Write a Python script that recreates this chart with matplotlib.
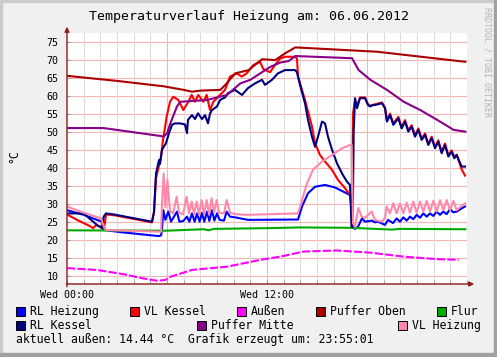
import matplotlib
matplotlib.use('Agg')
import matplotlib.pyplot as plt
from matplotlib.patches import Rectangle

# hours since Wed 00:00 and temperatures in degC
rl_heizung_t = [0, 1.0, 1.8, 2.1, 2.22, 3.2, 5.5, 5.65, 5.7, 5.78, 5.9, 6.08, 6.24, 6.6, 6.74, 6.98,
                7.2, 7.34, 7.5, 7.66, 7.8, 7.96, 8.1, 8.24, 8.4, 8.54, 8.7, 8.84, 9.0, 9.16, 9.42,
                9.58, 9.78, 10.08, 10.86, 13.86, 14.1, 14.46, 14.88, 15.48, 16.08, 16.68, 16.98,
                17.04, 17.1, 17.28, 17.46, 17.7, 17.88, 18.3, 18.48, 18.66, 19.08, 19.26, 19.56,
                19.78, 19.98, 20.18, 20.38, 20.58, 20.78, 20.98, 21.18, 21.38, 21.58, 21.78, 21.98,
                22.18, 22.38, 22.58, 22.78, 22.98, 23.18, 23.38, 23.68, 23.88]
rl_heizung_v = [28.2, 26.9, 25.5, 25.0, 22.7, 22.1, 21.0, 21.2, 23.0, 28.2, 25.5, 27.8, 25.0, 27.8, 25.0, 25.2,
                26.4, 25.0, 27.3, 25.0, 27.3, 25.0, 27.5, 25.0, 27.8, 25.2, 28.2, 25.3, 27.3, 25.5, 25.3,
                27.8, 26.4, 26.2, 25.5, 25.6, 29.2, 32.9, 34.7, 35.2, 34.5, 33.1, 32.4,
                30.0, 23.6, 23.0, 23.6, 25.9, 25.0, 25.3, 24.8, 25.0, 24.1, 25.5, 24.6,
                25.9, 25.0, 26.2, 25.3, 26.4, 25.7, 26.9, 26.1, 27.3, 26.4, 27.3, 26.6,
                27.8, 26.9, 27.8, 27.1, 28.5, 27.6, 27.8, 28.7, 29.2]

vl_kessel_t = [0, 0.6, 1.0, 1.44, 1.56, 1.74, 2.04, 2.22, 2.34, 2.82, 5.1, 5.22, 5.34, 5.46, 5.64, 5.76,
               5.98, 6.18, 6.38, 6.68, 6.98, 7.28, 7.48, 7.68, 7.88, 8.18, 8.38, 8.58, 8.78, 9.18,
               9.48, 9.78, 10.18, 10.48, 10.78, 11.18, 11.58, 11.78, 12.18, 12.48, 12.78, 13.08,
               13.68, 13.8, 13.86, 14.28, 14.7, 14.88, 15.18, 15.48, 15.9, 16.26, 16.68, 16.98,
               17.04, 17.1, 17.16, 17.28, 17.4, 17.58, 17.88, 18.06, 18.18, 18.48, 18.9, 19.08,
               19.2, 19.38, 19.58, 19.88, 20.08, 20.28, 20.48, 20.68, 20.88, 21.08, 21.28, 21.48,
               21.68, 21.88, 22.08, 22.28, 22.48, 22.68, 22.88, 23.08, 23.24, 23.38, 23.68, 23.88]
vl_kessel_v = [27.0, 25.5, 24.6, 23.6, 23.2, 24.0, 23.6, 22.9, 27.0, 26.8, 24.8, 27.5, 37.0, 39.4, 43.0, 47.7,
               54.2, 58.3, 59.7, 58.8, 56.0, 58.3, 60.2, 58.3, 60.2, 58.3, 60.2, 56.0, 58.3, 60.2,
               61.6, 65.3, 66.2, 65.3, 66.2, 68.5, 69.4, 67.4, 66.5, 68.5, 70.3, 70.8,
               70.8, 70.3, 65.3, 58.8, 51.4, 46.8, 43.5, 41.7, 39.4, 36.6, 34.3, 32.4,
               31.5, 24.0, 55.0, 58.8, 57.2, 59.5, 59.5, 57.6, 57.2, 57.6, 58.1, 56.7,
               53.0, 55.0, 52.3, 54.1, 51.3, 53.2, 50.4, 51.8, 49.0, 50.9, 48.1, 49.5,
               46.7, 48.6, 45.8, 47.6, 44.4, 46.7, 43.5, 44.8, 43.0, 43.6, 39.5, 37.8]

aussen_t = [0, 1.8, 3.4, 4.5, 5.4, 5.9, 6.2, 7.5, 9.6, 11.6, 12.8, 14.2, 16.2, 18.2, 20.2, 22.2, 23.5]
aussen_v = [12.1, 11.6, 10.4, 9.3, 8.6, 8.8, 9.7, 11.6, 12.5, 14.4, 15.3, 16.7, 17.0, 16.4, 15.3, 14.6, 14.4]

puffer_oben_t = [0, 3.0, 5.8, 7.0, 7.5, 8.0, 9.2, 9.5, 10.1, 10.9, 11.4, 11.7, 12.5, 13.1, 13.7, 18.6, 23.9]
puffer_oben_v = [65.5, 64.1, 62.6, 61.6, 61.1, 61.4, 61.6, 63.0, 66.2, 67.1, 69.0, 70.1, 69.9, 71.8, 73.4, 72.2, 69.4]

flur_t = [0, 6.0, 8.2, 8.5, 8.8, 12.0, 14.0, 17.0, 19.5, 20.0, 23.9]
flur_v = [22.6, 22.5, 22.9, 22.6, 23.0, 23.2, 23.4, 23.3, 22.8, 23.0, 22.9]

rl_kessel_t = [0, 1.0, 1.44, 1.8, 2.1, 2.2, 2.34, 2.82, 5.1, 5.22, 5.34, 5.52, 5.58, 5.7, 5.94, 6.12,
               6.3, 6.48, 6.78, 7.08, 7.2, 7.26, 7.5, 7.68, 7.86, 8.1, 8.28, 8.46, 8.58, 8.7, 9.0,
               9.18, 9.48, 9.66, 10.08, 10.5, 10.86, 11.28, 11.7, 11.88, 12.3, 12.66, 13.08, 13.68,
               13.8, 13.98, 14.28, 14.46, 14.7, 14.88, 15.06, 15.3, 15.48, 15.66, 15.9, 16.2, 16.5,
               16.8, 16.98, 17.08, 17.14, 17.2, 17.28, 17.4, 17.58, 17.88, 18.06, 18.18, 18.36,
               18.48, 18.9, 19.08, 19.2, 19.38, 19.58, 19.88, 20.08, 20.28, 20.48, 20.68, 20.88,
               21.08, 21.28, 21.48, 21.68, 21.88, 22.08, 22.28, 22.48, 22.68, 22.88, 23.08, 23.24,
               23.38, 23.68, 23.88]
rl_kessel_v = [27.3, 27.3, 25.5, 24.1, 23.2, 26.4, 27.3, 27.0, 25.0, 27.8, 38.4, 42.1, 41.0, 45.0, 46.8, 49.6,
               51.9, 52.3, 52.3, 52.0, 49.6, 53.3, 54.6, 53.5, 55.1, 53.5, 54.6, 52.3, 55.0, 56.0, 57.0,
               58.8, 59.5, 60.7, 61.6, 60.2, 62.1, 63.4, 64.4, 63.0, 64.4, 66.2, 67.1, 67.1,
               66.5, 63.0, 57.9, 53.3, 48.6, 45.8, 48.6, 52.8, 52.3, 48.6, 45.0, 41.2, 38.4,
               36.1, 35.2, 23.5, 23.5, 50.0, 59.3, 56.5, 59.3, 59.3, 57.4, 57.0, 57.4,
               57.4, 57.9, 56.5, 52.8, 54.6, 51.9, 53.7, 50.9, 52.8, 50.0, 51.4, 48.6,
               50.5, 47.7, 49.1, 46.3, 48.2, 45.4, 47.2, 44.0, 46.3, 43.1, 44.4, 42.6,
               43.5, 40.3, 40.3]

puffer_mitte_t = [0, 2.2, 5.6, 5.8, 6.0, 6.2, 6.6, 6.8, 8.4, 9.6, 10.4, 11.0, 11.6, 12.2, 12.8, 13.3,
                  13.7, 17.1, 17.5, 18.2, 19.2, 20.2, 21.2, 22.2, 23.2, 23.9]
puffer_mitte_v = [51.0, 51.0, 48.8, 48.6, 49.5, 52.3, 57.0, 58.3, 58.8, 60.2, 63.4, 64.4, 66.2, 68.0, 69.2, 69.6,
                  71.0, 70.4, 67.1, 64.4, 61.6, 58.3, 56.0, 53.3, 50.5, 50.0]

vl_heizung_t = [0, 1.0, 2.04, 2.22, 2.34, 5.64, 5.7, 5.8, 5.9, 6.02, 6.18, 6.36, 6.58, 6.72, 6.96, 7.18,
                7.32, 7.48, 7.62, 7.78, 7.92, 8.08, 8.22, 8.38, 8.52, 8.68, 8.82, 8.98, 9.12, 9.42,
                9.58, 9.78, 10.08, 10.86, 13.86, 14.1, 14.4, 14.76, 15.3, 15.9, 16.5, 16.98, 17.08,
                17.16, 17.28, 17.48, 17.68, 17.88, 18.28, 18.48, 18.88, 19.08, 19.18, 19.38, 19.58,
                19.78, 19.98, 20.18, 20.38, 20.58, 20.78, 20.98, 21.18, 21.38, 21.58, 21.78, 21.98,
                22.18, 22.38, 22.58, 22.78, 22.98, 23.18, 23.38, 23.68, 23.88]
vl_heizung_v = [29.2, 27.5, 25.9, 23.6, 22.7, 22.2, 30.0, 38.4, 29.0, 36.6, 28.0, 27.3, 31.9, 27.5, 27.0, 31.9,
                27.3, 30.6, 27.0, 30.6, 27.0, 31.0, 27.0, 31.0, 27.0, 31.5, 27.5, 31.0, 27.5, 27.3,
                31.0, 27.5, 27.1, 26.9, 27.3, 31.0, 35.7, 39.4, 41.7, 43.5, 45.4, 46.3, 46.3,
                24.6, 23.6, 28.8, 26.4, 26.1, 27.8, 25.5, 25.0, 26.0, 29.2, 27.3, 30.1,
                27.3, 30.1, 27.3, 30.3, 27.5, 30.6, 27.5, 30.6, 27.8, 30.8, 27.8, 30.8,
                27.8, 31.0, 28.2, 31.0, 28.2, 30.8, 28.2, 29.4, 30.1]

# legend order = draw order
series = [
    ('RL Heizung', '#0000ff', rl_heizung_t, rl_heizung_v),
    ('VL Kessel', '#ff0000', vl_kessel_t, vl_kessel_v),
    ('Außen', '#ff00ff', aussen_t, aussen_v),
    ('Puffer Oben', '#aa0000', puffer_oben_t, puffer_oben_v),
    ('Flur', '#00aa00', flur_t, flur_v),
    ('RL Kessel', '#000080', rl_kessel_t, rl_kessel_v),
    ('Puffer Mitte', '#880088', puffer_mitte_t, puffer_mitte_v),
    ('VL Heizung', '#ff88aa', vl_heizung_t, vl_heizung_v),
]

title = 'Temperaturverlauf Heizung am: 06.06.2012'
x_ticks = [0, 12]
x_labels = ['Wed 00:00', 'Wed 12:00']
y_ticks = list(range(10, 80, 5))
footer = 'aktuell außen: 14.44 °C  Grafik erzeugt um: 23:55:01'

W, H = 497, 357
mono = 'DejaVu Sans Mono'
plt.rcParams['font.family'] = mono

fig = plt.figure(figsize=(W / 100, H / 100), dpi=100)
fig.patch.set_facecolor('#f0f0f0')


def fx(px):
    return px / W


def fy(py):
    return 1 - py / H


# shaded frame
fig.patches.append(Rectangle((0, fy(2)), 1, 2 / H, transform=fig.transFigure, color='#cbcbcb', zorder=0))
fig.patches.append(Rectangle((0, 0), 2 / W, 1, transform=fig.transFigure, color='#cbcbcb', zorder=0))
fig.patches.append(Rectangle((fx(494), 0), 3 / W, 1, transform=fig.transFigure, color='#a0a0a0', zorder=1))
fig.patches.append(Rectangle((0, 0), 1, 4 / H, transform=fig.transFigure, color='#a0a0a0', zorder=1))

ax = fig.add_axes([fx(67), fy(283), 400 / W, 250 / H])
ax.set_facecolor('white')
ax.set_xlim(0, 24)
ax.set_ylim(7.97, 77.4)

for v in y_ticks:
    ax.axhline(v, color='#f5b3b3', lw=0.8, zorder=0)
for h in range(1, 24):
    ax.axvline(h, color='#f5b3b3' if h % 6 == 0 else '#dcdcdc', lw=0.8, zorder=0)

for name, col, t, v in series:
    if name == 'Außen':
        ax.plot(t, v, color=col, lw=1.5, dashes=(4, 1), zorder=2)
    else:
        ax.plot(t, v, color=col, lw=1.5, zorder=2)

for s in ax.spines.values():
    s.set_visible(False)
ax.set_xticks(x_ticks)
ax.set_xticklabels(x_labels)
ax.set_xticks(range(25), minor=True)
ax.set_yticks(y_ticks)
ax.tick_params(axis='both', which='both', length=2, direction='in', color='#999999', labelsize=7.2)
ax.tick_params(axis='x', pad=5)
ax.tick_params(axis='y', pad=6)

axis_col = '#8b1a1a'
ax.annotate('', xy=(0, 1.025), xytext=(0, -0.015), xycoords='axes fraction',
            arrowprops=dict(arrowstyle='-|>', color=axis_col, lw=1, mutation_scale=7, shrinkA=0, shrinkB=0))
ax.annotate('', xy=(1.018, -0.004), xytext=(-0.002, -0.004), xycoords='axes fraction',
            arrowprops=dict(arrowstyle='-|>', color=axis_col, lw=1, mutation_scale=7, shrinkA=0, shrinkB=0))

fig.text(fx(249), fy(20), title, ha='center', va='baseline', fontsize=9.5)
fig.text(fx(13.5), fy(156), '°C', ha='center', va='center', rotation=90, fontsize=8.3)
fig.text(fx(487), fy(7), 'RRDTOOL / TOBI OETIKER', ha='center', va='top', rotation=270,
         fontsize=6, color='#b4b4b4')

# legend, laid out like rrdtool does it
leg_pos = [(16, 311), (130, 311), (237, 311), (316, 311), (437, 311),
           (16, 325), (197, 325), (398, 325)]
for (name, col, t, v), (bx, by) in zip(series, leg_pos):
    fig.patches.append(Rectangle((fx(bx), fy(by + 4.5)), 9 / W, 9 / H, transform=fig.transFigure,
                                 facecolor=col, edgecolor='black', lw=0.7, zorder=3))
    fig.text(fx(bx + 14), fy(by + 4), name, ha='left', va='baseline', fontsize=8.3)

fig.text(fx(16), fy(343), footer, ha='left', va='baseline', fontsize=8.3)

fig.savefig('out.png', dpi=100, facecolor=fig.get_facecolor())
